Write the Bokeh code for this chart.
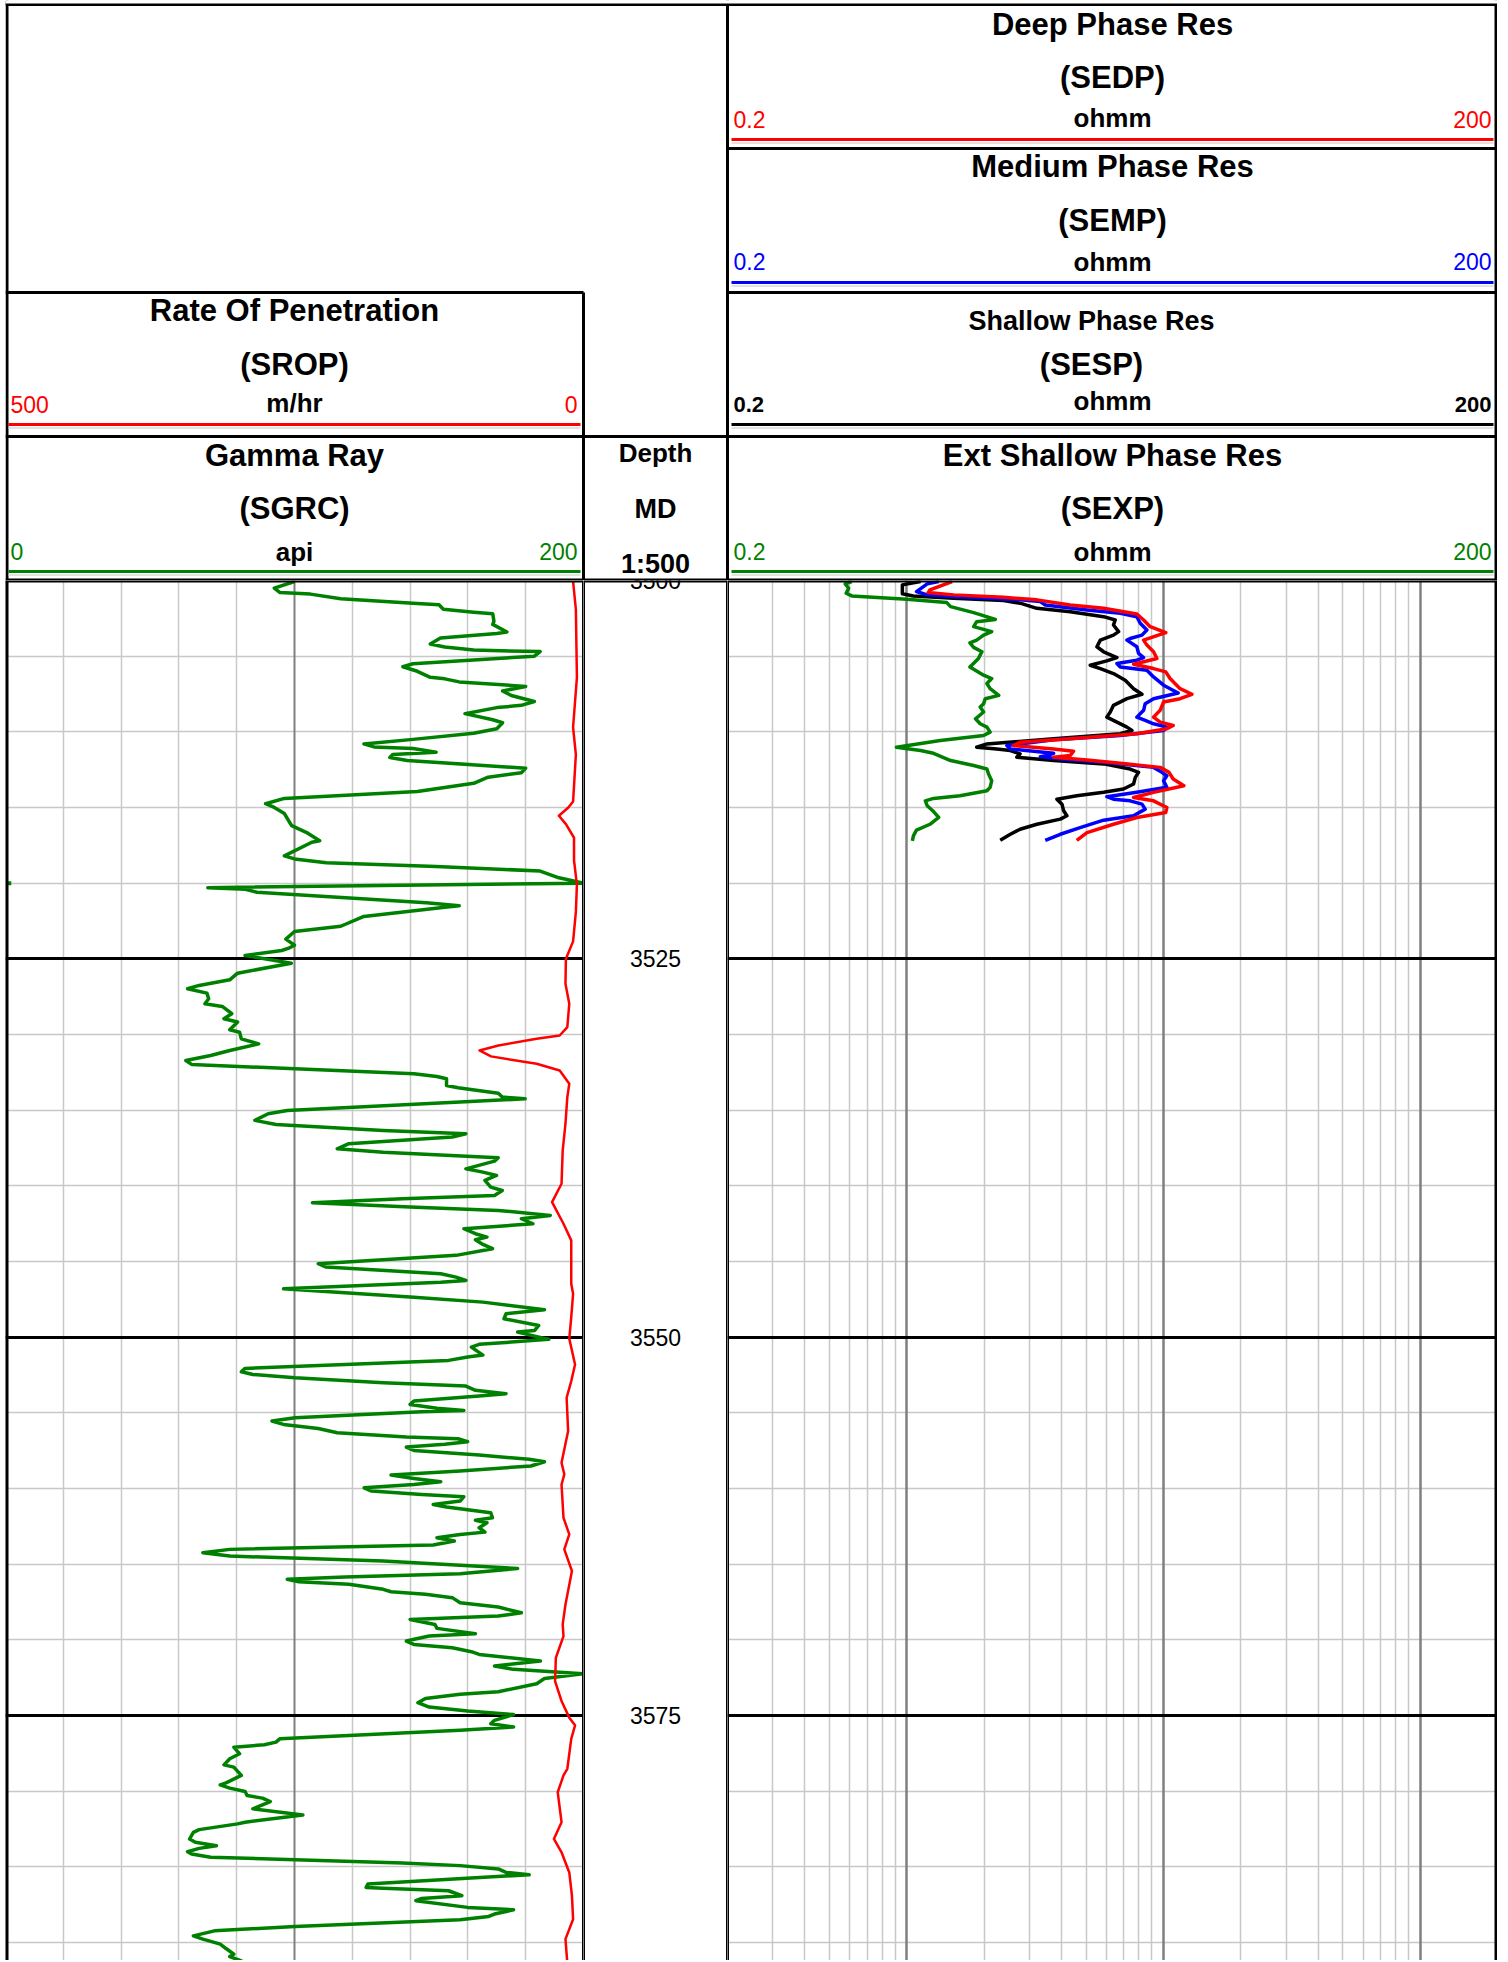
from bokeh.plotting import figure
from bokeh.layouts import column, row
from bokeh.models import Range1d, Grid, FixedTicker, Span, ColumnDataSource, Spacer
from bokeh.embed import file_html
from bokeh.resources import INLINE
from bokeh.core.properties import value

# ---------------- data ----------------
GR_DEPTH = [3500.07, 3500.5, 3500.8, 3500.9, 3501.2, 3501.5, 3501.6, 3501.9, 3502.1, 3502.2, 3502.7, 3502.9, 3503.4, 3503.5,
            3503.8, 3504.2, 3504.4, 3504.6, 3504.7, 3505.0, 3505.5, 3505.7, 3506.0, 3506.4, 3506.5, 3506.7, 3507.0, 3507.3,
            3507.6, 3508.0, 3508.25, 3508.4, 3508.8, 3509.2, 3509.4, 3509.8, 3510.1, 3510.5, 3510.8, 3511.0, 3511.1, 3511.35,
            3511.5, 3511.7, 3511.9, 3512.4, 3512.7, 3513.0, 3513.4, 3513.95, 3514.4, 3514.75, 3515.0, 3515.4, 3516.2, 3516.7,
            3517.2, 3517.3, 3518.2, 3518.4, 3518.65, 3518.9, 3519.2, 3519.65, 3520.0, 3520.3, 3520.4, 3520.6, 3521.3, 3521.5,
            3521.6, 3522.2, 3522.85, 3523.2, 3523.7, 3524.1, 3524.3, 3524.45, 3524.78, 3525.29, 3525.95, 3526.39, 3526.76,
            3526.98, 3527.27, 3527.64, 3527.97, 3528.15, 3528.63, 3528.96, 3529.18, 3529.69, 3529.85, 3530.29, 3530.62,
            3531.06, 3531.39, 3531.72, 3531.98, 3532.27, 3532.60, 3532.78, 3532.93, 3533.37, 3533.52, 3533.88, 3534.14,
            3534.25, 3534.47, 3535.02, 3535.24, 3535.68, 3535.95, 3536.34, 3536.56, 3536.78, 3537.22, 3537.56, 3537.78,
            3538.15, 3538.37, 3538.88, 3539.10, 3539.32, 3539.65, 3540.09, 3540.31, 3540.64, 3540.86, 3541.12, 3541.41,
            3541.63, 3541.96, 3542.18, 3542.51, 3542.84, 3543.17, 3543.39, 3543.57, 3543.88, 3544.16, 3544.60, 3545.15,
            3545.37, 3545.81, 3546.04, 3546.26, 3546.37, 3546.81, 3547.36, 3547.69, 3548.19, 3548.46, 3548.79, 3549.23,
            3549.56, 3549.67, 3550.15, 3550.48, 3550.66, 3551.19, 3551.32, 3551.54, 3551.81, 3552.07, 3552.29, 3552.47,
            3552.69, 3553.02, 3553.24, 3553.52, 3553.74, 3553.90, 3554.23, 3554.45, 3554.71, 3554.85, 3554.93, 3555.33,
            3555.55, 3555.77, 3556.04, 3556.32, 3556.61, 3556.72, 3556.92, 3557.09, 3557.27, 3557.49, 3557.80, 3558.08,
            3558.24, 3558.52, 3558.85, 3559.12, 3559.34, 3559.56, 3559.74, 3559.96, 3560.18, 3560.40, 3560.55, 3560.84,
            3561.06, 3561.23, 3561.61, 3561.94, 3562.11, 3562.27, 3562.60, 3562.89, 3563.04, 3563.26, 3563.48, 3563.74,
            3564.03, 3564.25, 3564.47, 3564.80, 3565.29, 3565.64, 3565.86, 3566.01, 3566.17, 3566.34, 3566.67, 3566.83,
            3567.00, 3567.22, 3567.56, 3567.84, 3568.22, 3568.44, 3568.66, 3568.99, 3569.25, 3569.60, 3569.76, 3570.09,
            3570.31, 3570.53, 3570.79, 3570.97, 3571.41, 3571.74, 3571.96, 3572.25, 3572.56, 3572.91, 3573.44, 3573.61,
            3573.88, 3574.16, 3574.45, 3574.71, 3574.95, 3575.33, 3575.55, 3575.77, 3575.99, 3576.55, 3576.77, 3576.94,
            3577.10, 3577.54, 3577.87, 3578.27, 3578.42, 3578.97, 3579.46, 3579.59, 3579.81, 3580.03, 3580.30, 3580.47,
            3580.70, 3581.18, 3581.58, 3582.06, 3582.17, 3582.55, 3582.73, 3583.17, 3583.39, 3583.61, 3583.79, 3584.01,
            3584.16, 3584.38, 3584.54, 3584.76, 3584.93, 3585.15, 3585.38, 3585.53, 3586.15, 3586.37, 3586.43, 3586.59,
            3586.92, 3587.10, 3587.25, 3587.69, 3587.85, 3588.13, 3588.29, 3588.51, 3588.95, 3589.24, 3589.57, 3589.79,
            3590.12, 3590.41, 3590.78, 3590.94, 3591.23, 3591.45]
GR_API = [100, 93, 95, 105.5, 116, 141, 150, 151.5, 162, 168.6, 169, 168.6, 173.5, 170,
          150.5, 147, 152, 162, 185, 183, 141, 137.5, 142.5, 147, 152, 157, 180, 172,
          175, 183, 178.5, 170, 159, 168.6, 172, 170, 162, 141, 124, 127.5, 141, 149,
          134, 133, 139, 180, 178.5, 167, 162, 142.5, 96.5, 90, 93, 96.5, 99, 104.6,
          108.7, 106, 96.5, 100, 111, 149, 185, 191.5, 200, 70, 83, 87, 145.6, 157,
          152, 124, 116, 100, 97, 100, 98, 95.6, 82.9, 98.9, 80.3, 77.6, 67.0,
          63.0, 69.7, 70.3, 69.0, 75.0, 78.3, 75.6, 80.3, 77.6, 81.0, 81.6, 87.6,
          77.6, 71.0, 62.4, 64.4, 100.2, 141.3, 149.3, 152.6, 152.6, 156.6, 170.5, 171.9,
          179.8, 157.3, 97.5, 90.9, 86.3, 93.6, 130.7, 159.3, 154.6, 118.8, 114.8, 130.7,
          170.5, 169.2, 159.3, 165.2, 169.9, 165.9, 167.9, 171.9, 169.2, 137.4, 106.2, 140.0,
          170.5, 188.5, 178.5, 182.5, 158.6, 162.6, 166.6, 162.6, 165.2, 168.5, 155.9, 108.2,
          110.8, 150.6, 155.9, 159.3, 150.6, 96.2, 141.3, 165.2, 186.5, 173.2, 172.5, 184.5,
          183.1, 177.2, 188.0, 163.9, 161.2, 165.2, 159.9, 153.3, 117.5, 82.9, 81.6, 85.6,
          100.2, 130.7, 159.3, 162.6, 173.2, 163.9, 141.3, 140.0, 149.3, 158.6, 144.0, 100.2,
          92.2, 96.2, 108.2, 114.8, 138.7, 156.6, 159.9, 152.0, 138.7, 141.3, 163.9, 181.2,
          186.5, 181.8, 157.3, 133.4, 141.3, 150.6, 141.3, 124.1, 126.7, 144.0, 158.6, 157.3,
          148.0, 152.6, 167.9, 168.5, 162.6, 166.6, 163.9, 165.9, 157.3, 149.3, 155.3, 148.0,
          77.6, 68.3, 77.6, 130.7, 177.2, 157.3, 117.5, 97.5, 101.5, 118.8, 130.7, 133.4,
          145.3, 154.6, 157.3, 170.5, 178.5, 170.5, 140.0, 148.6, 149.3, 162.6, 146.6, 138.7,
          141.3, 154.6, 161.2, 163.9, 185.1, 169.2, 175.8, 200, 186.5, 183.8, 170.5, 157.3,
          145.3, 142.7, 146.6, 159.9, 175.8, 169.2, 167.9, 175.8, 157.3, 94.9, 93.6, 89.6,
          79.0, 81.0, 77.6, 75.6, 79.0, 81.6, 76.3, 74.3, 77.6, 82.9, 83.6, 88.9,
          91.6, 85.6, 102.9, 82.9, 80.3, 67.0, 65.0, 63.7, 65.7, 73.0, 67.0, 63.0,
          64.4, 71.0, 100.2, 137.4, 157.3, 170.5, 173.2, 181.2, 125.4, 124.8, 130.7, 153.3,
          157.9, 144.0, 142.0, 159.9, 175.8, 169.2, 167.2, 157.3, 100.2, 72.3, 65.0, 68.3,
          74.3, 76.3, 79.0, 77.6, 81.6, 77.6]
# wrapped (off-scale) gamma-ray sample redrawn at the left edge
GR_WRAP_DEPTH = [3520.0, 3520.0]
GR_WRAP_API = [0.3, 2.0]

ROP_DEPTH = [3500.07, 3501.9, 3506.4, 3509.7, 3511.5, 3514.6, 3515.0, 3515.55, 3516.1, 3517.0, 3518.5, 3520.1,
             3521.9, 3523.85, 3525.0, 3526.65, 3527.97, 3529.52, 3530.07, 3530.29, 3530.73, 3531.06, 3531.45,
             3531.94, 3532.38, 3533.26, 3534.14, 3535.90, 3537.67, 3539.87, 3541.08, 3542.51, 3543.61, 3546.48,
             3547.14, 3548.68, 3550.11, 3551.81, 3552.91, 3554.01, 3556.21, 3558.30, 3559.07, 3559.74, 3561.94,
             3563.04, 3564.03, 3565.46, 3567.67, 3568.99, 3569.76, 3571.19, 3572.73, 3574.05, 3575.15, 3575.66,
             3576.55, 3578.53, 3578.97, 3580.08, 3582.06, 3583.17, 3584.05, 3585.38, 3586.92, 3588.47, 3589.79,
             3591.36]
ROP = [9.0, 6.6, 5.7, 9.0, 6.6, 9.0, 13.1, 21.3, 15.2, 8.2, 8.2, 5.7,
       6.6, 9.0, 15.2, 15.6, 12.3, 14.0, 20.6, 40.5, 73.6, 90.0, 80.0,
       40.5, 20.6, 12.3, 14.0, 15.6, 18.0, 19.0, 27.2, 17.3, 10.6, 10.6,
       9.0, 10.6, 12.3, 7.3, 10.6, 14.6, 13.3, 19.0, 16.6, 19.0, 17.3,
       12.3, 16.6, 10.0, 15.6, 18.0, 17.3, 23.9, 24.6, 19.0, 12.3, 7.3,
       10.6, 14.0, 17.3, 22.3, 19.0, 25.6, 19.0, 12.3, 10.0, 9.0, 15.6,
       14.0]

SEXP_DEPTH = [3500.07, 3500.22, 3500.51, 3500.84, 3501.02, 3501.24, 3501.46, 3501.73, 3502.12, 3502.57, 3502.72,
              3503.05, 3503.38, 3503.61, 3503.94, 3504.12, 3504.42, 3504.71, 3505.15, 3505.71, 3506.26, 3506.48,
              3506.81, 3507.15, 3507.59, 3507.81, 3508.14, 3508.36, 3508.69, 3509.14, 3509.47, 3509.69, 3510.02,
              3510.24, 3510.58, 3511.02, 3511.24, 3511.42, 3511.90, 3512.23, 3512.46, 3512.79, 3513.23, 3513.67,
              3513.89, 3514.23, 3514.40, 3514.56, 3514.89, 3515.27, 3515.66, 3516.11, 3516.50, 3516.88, 3517.21]
SEXP = [0.61, 0.575, 0.593, 0.58, 0.61, 1.0, 1.43, 1.48, 1.82, 2.21, 1.87,
        1.82, 2.14, 1.99, 1.87, 1.76, 1.82, 1.96, 1.90, 1.76, 1.99, 2.14,
        2.05, 2.11, 2.28, 2.02, 1.99, 1.93, 1.99, 1.85, 1.93, 2.05, 2.11,
        1.99, 1.35, 0.91, 1.13, 1.27, 1.48, 1.82, 2.05, 2.08, 2.14, 2.11,
        2.05, 1.61, 1.27, 1.18, 1.20, 1.27, 1.33, 1.23, 1.09, 1.06, 1.05]

SESP_DEPTH = [3500.07, 3500.29, 3500.88, 3501.02, 3501.17, 3501.33, 3501.50, 3501.84, 3502.06, 3502.39, 3502.61,
              3502.94, 3503.38, 3503.61, 3503.94, 3504.38, 3504.71, 3505.09, 3505.31, 3505.60, 3505.82, 3506.15,
              3506.59, 3507.15, 3507.52, 3507.81, 3508.25, 3508.69, 3509.03, 3509.36, 3509.69, 3509.91, 3510.13,
              3510.46, 3510.80, 3511.02, 3511.13, 3511.24, 3511.46, 3511.68, 3511.90, 3512.12, 3512.46, 3512.68,
              3513.01, 3513.45, 3513.78, 3514.00, 3514.23, 3514.45, 3514.78, 3515.22, 3515.55, 3515.77, 3516.11,
              3516.44, 3516.77, 3517.17]
SESP = [1.13, 0.96, 0.96, 1.06, 1.52, 2.38, 2.76, 3.21, 4.33, 5.84, 6.48,
        6.38, 6.68, 6.38, 5.67, 5.50, 5.84, 6.58, 6.01, 5.18, 5.67, 6.38,
        7.09, 7.64, 8.24, 7.20, 6.38, 6.20, 6.01, 6.58, 7.20, 7.53, 6.78,
        3.73, 2.05, 1.87, 2.24, 2.53, 2.76, 2.68, 3.73, 5.84, 7.41, 7.99,
        7.76, 7.64, 6.98, 5.84, 4.59, 3.84, 4.02, 4.08, 4.20, 3.96, 3.21,
        2.76, 2.53, 2.31]

SEMP_DEPTH = [3500.07, 3500.22, 3500.73, 3500.95, 3501.06, 3501.28, 3501.39, 3501.62, 3501.95, 3502.17, 3502.39,
              3502.83, 3503.27, 3503.61, 3503.83, 3503.94, 3504.38, 3504.82, 3505.09, 3505.27, 3505.49, 3505.71,
              3505.93, 3506.37, 3506.92, 3507.43, 3507.81, 3508.14, 3508.58, 3509.03, 3509.25, 3509.47, 3509.69,
              3509.91, 3510.24, 3510.53, 3510.91, 3511.13, 3511.42, 3511.57, 3511.64, 3511.79, 3512.01, 3512.35,
              3512.68, 3512.90, 3513.23, 3513.67, 3514.00, 3514.29, 3514.45, 3514.56, 3514.78, 3515.11, 3515.55,
              3515.84, 3516.33, 3516.77, 3517.17]
SEMP = [1.33, 1.20, 1.09, 1.20, 1.52, 2.76, 3.31, 3.46, 5.03, 6.78, 7.87,
        8.11, 8.61, 8.24, 7.41, 7.20, 7.87, 7.99, 8.36, 7.87, 6.58, 6.78,
        8.61, 9.14, 10.0, 11.4, 9.14, 8.48, 8.36, 7.87, 8.48, 9.14, 10.3,
        10.0, 6.78, 3.73, 2.45, 2.53, 3.73, 3.51, 3.31, 3.96, 5.84, 9.14,
        9.85, 10.3, 10.0, 10.3, 7.87, 6.01, 6.38, 7.41, 8.24, 8.48, 7.64,
        5.84, 4.73, 3.96, 3.46]

SEDP_DEPTH = [3500.07, 3500.62, 3500.80, 3500.95, 3501.11, 3501.28, 3501.62, 3501.84, 3502.21, 3502.61, 3503.05,
              3503.45, 3503.94, 3504.27, 3504.71, 3505.15, 3505.53, 3505.82, 3506.04, 3506.48, 3507.15, 3507.52,
              3507.81, 3508.03, 3508.58, 3509.03, 3509.36, 3509.58, 3509.80, 3510.13, 3510.46, 3510.69, 3510.91,
              3511.13, 3511.28, 3511.57, 3511.68, 3511.86, 3512.08, 3512.35, 3512.68, 3513.12, 3513.56, 3514.00,
              3514.34, 3514.56, 3515.00, 3515.33, 3515.66, 3516.11, 3516.66, 3517.17]
SEDP = [1.50, 1.23, 1.21, 1.52, 2.38, 3.21, 4.33, 5.84, 7.87, 8.36, 8.87,
        10.2, 8.36, 8.61, 9.14, 9.42, 7.64, 9.14, 10.2, 10.6, 11.6, 12.9,
        11.6, 10.0, 9.70, 9.14, 9.70, 10.9, 10.3, 7.87, 4.33, 2.76, 2.60,
        3.73, 4.46, 4.33, 3.73, 5.03, 6.78, 9.70, 10.5, 10.9, 12.0, 9.14,
        7.64, 9.14, 10.3, 10.2, 7.87, 6.38, 5.03, 4.59]

DEPTH_LABELS = [3500, 3525, 3550, 3575]
DEPTH_MINOR = [3505, 3510, 3515, 3520, 3530, 3535, 3540, 3545, 3555, 3560, 3565, 3570, 3580, 3585, 3590]
DEPTH_MAJOR = [3525, 3550, 3575]
GR_GRID_MINOR = [20, 40, 60, 80, 120, 140, 160, 180]
GR_GRID_MAJOR = [100]
RES_GRID_MINOR = [0.3, 0.4, 0.5, 0.6, 0.7, 0.8, 0.9, 2, 3, 4, 5, 6, 7, 8, 9, 20, 30, 40, 50, 60, 70, 80, 90]
RES_GRID_MAJOR = [1, 10, 100]

# ---------------- layout ----------------
FONT = value("Liberation Sans")
GREEN = "#008000"
RED = "#ff0000"
BLUE = "#0000ff"
LIGHT = "#c8c8c8"
DARK = "#808080"

LEFT_PAD = 5
W_GR, W_DEPTH, W_RES = 578, 144, 770
HEADER_H = 580
DATA_H = 1380
TOTAL_W = W_GR + W_DEPTH + W_RES
Y_TOP, Y_BOT = 3500.0, 3591.2


def base(width, height, x_range, y_range, x_axis_type="linear"):
    p = figure(width=width, height=height, x_range=x_range, y_range=y_range,
               x_axis_type=x_axis_type, output_backend="svg", toolbar_location=None,
               x_axis_location=None, y_axis_location=None, tools="",
               min_border=0, min_border_left=0, min_border_right=0,
               min_border_top=0, min_border_bottom=0,
               outline_line_color=None, background_fill_color="white",
               border_fill_color="white")
    p.xgrid.visible = False
    p.ygrid.visible = False
    return p


def add_grid(p, dim, ticks, color, width):
    p.add_layout(Grid(dimension=dim, ticker=FixedTicker(ticks=ticks, minor_ticks=[]),
                      grid_line_color=color, grid_line_width=width))


def borders(p, left_w, right_w, x0, x1):
    p.add_layout(Span(location=x0, dimension="height", line_color="black", line_width=left_w))
    p.add_layout(Span(location=x1, dimension="height", line_color="black", line_width=right_w))
    p.add_layout(Span(location=Y_TOP, dimension="width", line_color="black", line_width=4))


# ---- gamma ray / ROP track ----
gr = base(W_GR, DATA_H, Range1d(0, 200), Range1d(Y_BOT, Y_TOP))
gr.extra_x_ranges = {"rop": Range1d(500, 0)}
add_grid(gr, 1, DEPTH_MINOR, LIGHT, 1.5)
add_grid(gr, 0, GR_GRID_MINOR, LIGHT, 1.5)
add_grid(gr, 0, GR_GRID_MAJOR, DARK, 2)
add_grid(gr, 1, DEPTH_MAJOR, "black", 3)
gr.line(GR_API, GR_DEPTH, line_color=GREEN, line_width=3.5, line_join="round")
gr.line(GR_WRAP_API, GR_WRAP_DEPTH, line_color=GREEN, line_width=4)
gr.line(ROP, ROP_DEPTH, line_color=RED, line_width=2.5, line_join="round", x_range_name="rop")
borders(gr, 6, 3, 0, 200)

# ---- depth track ----
dp = base(W_DEPTH, DATA_H, Range1d(0, 1), Range1d(Y_BOT, Y_TOP))
src = ColumnDataSource(dict(x=[0.5] * len(DEPTH_LABELS), y=DEPTH_LABELS,
                            t=[str(d) for d in DEPTH_LABELS]))
dp.text(x="x", y="y", text="t", source=src, text_font=FONT, text_font_size="23px",
        text_align="center", text_baseline="middle", text_color="black")
borders(dp, 3, 3, 0, 1)

# ---- resistivity track ----
rs = base(W_RES, DATA_H, Range1d(0.2, 200), Range1d(Y_BOT, Y_TOP), x_axis_type="log")
add_grid(rs, 1, DEPTH_MINOR, LIGHT, 1.5)
add_grid(rs, 0, RES_GRID_MINOR, LIGHT, 1.5)
add_grid(rs, 0, RES_GRID_MAJOR, DARK, 2.5)
add_grid(rs, 1, DEPTH_MAJOR, "black", 3)
rs.line(SEXP, SEXP_DEPTH, line_color=GREEN, line_width=3.5, line_join="round")
rs.line(SESP, SESP_DEPTH, line_color="black", line_width=3.5, line_join="round")
rs.line(SEMP, SEMP_DEPTH, line_color=BLUE, line_width=3.5, line_join="round")
rs.line(SEDP, SEDP_DEPTH, line_color=RED, line_width=3.5, line_join="round")
borders(rs, 3, 6, 0.2, 200)

# ---- header (coordinates in page pixels) ----
X0, X1 = LEFT_PAD, LEFT_PAD + TOTAL_W
XG = X0 + W_GR           # GR / depth boundary
XR = XG + W_DEPTH        # depth / resistivity boundary
hd = base(TOTAL_W, HEADER_H, Range1d(X0, X1), Range1d(HEADER_H, 0))

# box lines
bx0 = [X0, X0 + 1.5, X1 - 1.5, XR, XG, XR, X0, XR, X0, X0]
by0 = [4, 0, 0, 0, 292, 148, 292, 292, 436, 579]
bx1 = [X1, X0 + 1.5, X1 - 1.5, XR, XG, X1, XG, X1, X1, X1]
by1 = [4, 580, 580, 580, 580, 148, 292, 292, 436, 579]
bw = [3, 3, 3, 3, 3, 3, 3, 3, 3, 2]
hd.segment(x0=bx0, y0=by0, x1=bx1, y1=by1, line_color="black", line_width=bw)
# white area above the top line
hd.segment(x0=[X0], y0=[1], x1=[X1], y1=[1], line_color="white", line_width=4)

# scale lines under each curve title
cl_x0 = [XR + 4, XR + 4, XR + 4, XR + 4, X0 + 3, X0 + 3]
cl_x1 = [X1 - 4, X1 - 4, X1 - 4, X1 - 4, XG - 3, XG - 3]
cl_y = [139, 282, 424, 571, 424, 571]
cl_c = [RED, BLUE, "black", GREEN, RED, GREEN]
hd.segment(x0=cl_x0, y0=[y + 3.5 for y in cl_y], x1=cl_x1, y1=[y + 3.5 for y in cl_y],
           line_color="#d8d8d8", line_width=1.5)
hd.segment(x0=cl_x0, y0=cl_y, x1=cl_x1, y1=cl_y, line_color=cl_c, line_width=3)


def htext(x, y, s, size, bold=True, color="black", align="center"):
    hd.text(x=[x], y=[y], text=[s], text_font=FONT, text_font_size=size,
            text_font_style="bold" if bold else "normal", text_color=color,
            text_align=align, text_baseline="middle")


XRC = (XR + X1) / 2
XGC = (X0 + XG) / 2
XDC = (XG + XR) / 2
TS = "31px"
# resistivity headers
htext(XRC, 24, "Deep Phase Res", TS)
htext(XRC, 77, "(SEDP)", TS)
htext(XR + 6, 119, "0.2", "23px", False, RED, "left")
htext(XRC, 117, "ohmm", "26px")
htext(X1 - 6, 119, "200", "23px", False, RED, "right")

htext(XRC, 166, "Medium Phase Res", TS)
htext(XRC, 220, "(SEMP)", TS)
htext(XR + 6, 261, "0.2", "23px", False, BLUE, "left")
htext(XRC, 261, "ohmm", "26px")
htext(X1 - 6, 261, "200", "23px", False, BLUE, "right")

htext(XRC - 21, 320, "Shallow Phase Res", "27px")
htext(XRC - 21, 364, "(SESP)", "31px")
htext(XR + 6, 404, "0.2", "22px", True, "black", "left")
htext(XRC, 400, "ohmm", "26px")
htext(X1 - 6, 404, "200", "22px", True, "black", "right")

htext(XRC, 455, "Ext Shallow Phase Res", TS)
htext(XRC, 508, "(SEXP)", TS)
htext(XR + 6, 551, "0.2", "23px", False, GREEN, "left")
htext(XRC, 551, "ohmm", "26px")
htext(X1 - 6, 551, "200", "23px", False, GREEN, "right")

# gamma ray / ROP headers
htext(XGC, 310, "Rate Of Penetration", TS)
htext(XGC, 364, "(SROP)", TS)
htext(X0 + 5, 404, "500", "23px", False, RED, "left")
htext(XGC, 402, "m/hr", "26px")
htext(XG - 6, 404, "0", "23px", False, RED, "right")

htext(XGC, 455, "Gamma Ray", TS)
htext(XGC, 508, "(SGRC)", TS)
htext(X0 + 5, 551, "0", "23px", False, GREEN, "left")
htext(XGC, 551, "api", "26px")
htext(XG - 6, 551, "200", "23px", False, GREEN, "right")

# depth header
htext(XDC, 452, "Depth", "26px")
htext(XDC, 508, "MD", "27px")
htext(XDC, 563, "1:500", "27px")

layout = column(
    row(Spacer(width=LEFT_PAD, height=HEADER_H), hd, spacing=0),
    row(Spacer(width=LEFT_PAD, height=DATA_H), gr, dp, rs, spacing=0),
    spacing=0)
open("out.html", "w").write(file_html(layout, INLINE))
